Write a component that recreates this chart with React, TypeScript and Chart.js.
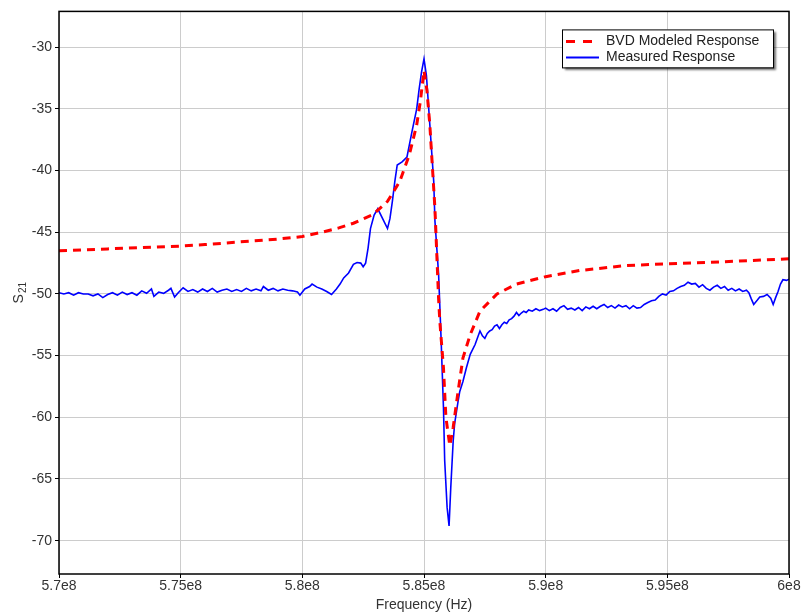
import React, { useEffect, useRef } from 'react';
import { Chart, registerables } from 'chart.js';

Chart.register(...registerables);

// Frequency in MHz (axis labels shown as e8 Hz)
const freqMeasured = [
  570.0, 570.2, 570.4, 570.6, 570.8, 571.0, 571.2, 571.4, 571.6, 571.8, 572.0, 572.2, 572.4, 572.6, 572.8,
  573.0, 573.2, 573.4, 573.6, 573.8, 573.9, 574.1, 574.3, 574.5, 574.6, 574.75, 574.9, 575.1, 575.3, 575.5,
  575.7, 575.9, 576.1, 576.3, 576.5, 576.7, 576.9, 577.1, 577.3, 577.5, 577.7, 577.9, 578.1, 578.3, 578.4,
  578.6, 578.8, 579.0, 579.2, 579.4, 579.6, 579.8, 579.9, 580.1, 580.3, 580.4, 580.6, 580.8, 581.0, 581.2,
  581.4, 581.55, 581.7, 581.9, 582.1, 582.25, 582.4, 582.5, 582.6, 582.7, 582.8, 582.95, 583.1, 583.3, 583.5,
  583.6, 583.7, 583.8, 583.9, 584.1, 584.3, 584.5, 584.7, 584.8, 584.9, 585.0, 585.1, 585.24, 585.4, 585.45,
  585.6, 585.7, 585.8, 585.85, 585.95, 586.03, 586.1, 586.2, 586.26, 586.4, 586.47, 586.6, 586.74, 586.9, 587.1,
  587.3, 587.4, 587.5, 587.6, 587.7, 587.8, 587.9, 588.0, 588.1, 588.2, 588.3, 588.4, 588.5, 588.6, 588.7,
  588.8, 588.9, 589.0, 589.1, 589.2, 589.3, 589.45, 589.6, 589.75, 589.9, 590.0, 590.15, 590.3, 590.45, 590.6,
  590.75, 590.9, 591.05, 591.2, 591.35, 591.5, 591.65, 591.8, 591.95, 592.1, 592.25, 592.4, 592.55, 592.7, 592.85,
  593.0, 593.15, 593.3, 593.45, 593.6, 593.75, 593.9, 594.05, 594.2, 594.35, 594.5, 594.65, 594.8, 594.95, 595.1,
  595.25, 595.4, 595.55, 595.7, 595.85, 596.0, 596.15, 596.3, 596.45, 596.6, 596.75, 596.9, 597.05, 597.2, 597.35,
  597.5, 597.65, 597.8, 597.95, 598.1, 598.25, 598.35, 598.45, 598.55, 598.7, 598.8, 598.95, 599.1, 599.25, 599.35,
  599.45, 599.55, 599.65, 599.75, 599.9, 600.0,
];
const s21Measured = [
  -49.9, -50.0, -49.9, -50.1, -49.9, -50.0, -50.0, -50.15, -50.0, -50.3, -50.05, -49.9, -50.1, -49.85, -50.05,
  -49.9, -50.1, -49.75, -49.95, -49.6, -50.2, -49.85, -49.95, -49.7, -49.55, -50.25, -49.9, -49.5, -49.8, -49.65,
  -49.85, -49.6, -49.8, -49.55, -49.85, -49.7, -49.6, -49.8, -49.65, -49.8, -49.55, -49.75, -49.6, -49.75, -49.4,
  -49.7, -49.55, -49.75, -49.6, -49.7, -49.75, -49.85, -50.1, -49.6, -49.4, -49.2, -49.45, -49.6, -49.8, -50.05,
  -49.6, -49.2, -48.7, -48.3, -47.6, -47.45, -47.5, -47.8, -47.5, -46.3, -44.7, -43.6, -43.1, -43.9, -44.7,
  -43.9, -42.5, -40.9, -39.55, -39.3, -38.9, -36.9, -35.0, -33.4, -32.0, -30.95, -32.3, -36.3, -40.9, -44.1,
  -48.4, -53.5, -59.2, -63.5, -67.3, -68.8, -65.7, -61.9, -60.5, -58.7, -57.9, -57.1, -56.0, -54.9, -54.1,
  -53.0, -53.4, -53.6, -53.2, -53.0, -52.9, -52.6, -52.5, -52.8, -52.5, -52.3, -52.4, -52.1, -52.0, -51.8,
  -51.5, -51.75, -51.55, -51.4, -51.5, -51.3, -51.4, -51.2, -51.35, -51.25, -51.15, -51.35, -51.2, -51.4, -51.1,
  -50.95, -51.25, -51.15, -51.3, -51.1, -51.35, -51.05, -51.2, -51.0, -51.2, -51.0, -50.85, -51.1, -50.95, -51.15,
  -50.9, -51.05, -50.95, -51.2, -50.95, -51.15, -51.1, -50.85, -50.7, -50.55, -50.5, -50.2, -50.0, -50.1, -49.8,
  -49.75, -49.55, -49.4, -49.3, -49.05, -49.2, -49.15, -49.45, -49.25, -49.55, -49.7, -49.45, -49.3, -49.55, -49.4,
  -49.7, -49.55, -49.75, -49.6, -49.8, -49.7, -49.9, -50.4, -50.85, -50.5, -50.25, -50.2, -50.05, -50.35, -50.85,
  -50.3, -49.8, -49.2, -48.85, -48.9, -48.8,
];

const freqModel = [
  570, 572, 574, 575, 576, 577, 578, 579, 580, 580.8, 581.5, 582.1, 582.9, 583.5, 584.0, 584.4, 584.7,
  584.85, 585.0, 585.12, 585.24, 585.45, 585.6, 585.65, 585.8, 585.9, 586.06, 586.2, 586.4, 586.6, 586.9,
  587.3, 587.7, 588.0, 588.8, 590.0, 591.4, 593.3, 595.1, 597.2, 600,
];
const s21Model = [
  -46.5, -46.35, -46.2, -46.12, -46.0, -45.85, -45.7, -45.55, -45.35, -45.0, -44.65, -44.27, -43.57, -42.5,
  -40.9, -38.7, -36.3, -34.4, -31.9, -33.5, -36.3, -43.1, -50.4, -52.2, -56.0, -60.0, -62.3, -60.8, -57.9,
  -55.2, -53.3, -51.4, -50.6, -50.0, -49.2, -48.6, -48.1, -47.7, -47.55, -47.4, -47.15,
];

const xTicks = [570, 575, 580, 585, 590, 595, 600];
const yTicks = [-70, -65, -60, -55, -50, -45, -40, -35, -30];
const seriesNames = ['BVD Modeled Response', 'Measured Response'];
const xTitle = 'Frequency (Hz)';

const FONT = '"Liberation Sans", Arial, sans-serif';
const TEXT = '#333333';

const decorPlugin = {
  id: 'decor',
  afterDraw(chart: any) {
    const { ctx, chartArea: a } = chart;
    ctx.save();
    // frame
    ctx.strokeStyle = '#000';
    ctx.lineWidth = 1.5;
    ctx.strokeRect(a.left, a.top, a.right - a.left, a.bottom - a.top);

    // legend
    const lw = 211;
    const lh = 38;
    const lx = a.right - 16 - lw;
    const ly = a.top + 18;
    ctx.save();
    ctx.shadowColor = 'rgba(0,0,0,0.55)';
    ctx.shadowOffsetX = 3;
    ctx.shadowOffsetY = 3;
    ctx.shadowBlur = 2;
    ctx.fillStyle = '#fff';
    ctx.fillRect(lx, ly, lw, lh);
    ctx.restore();
    ctx.strokeStyle = '#000';
    ctx.lineWidth = 1;
    ctx.strokeRect(lx + 0.5, ly + 0.5, lw, lh);

    const r1 = ly + 12;
    const r2 = ly + 28;
    ctx.strokeStyle = '#ff0000';
    ctx.lineWidth = 3;
    ctx.setLineDash([9, 8]);
    ctx.beginPath();
    ctx.moveTo(lx + 4, r1);
    ctx.lineTo(lx + 30, r1);
    ctx.stroke();
    ctx.setLineDash([]);
    ctx.strokeStyle = '#0000ff';
    ctx.lineWidth = 2;
    ctx.beginPath();
    ctx.moveTo(lx + 4, r2);
    ctx.lineTo(lx + 37, r2);
    ctx.stroke();

    ctx.fillStyle = '#222';
    ctx.font = `14px ${FONT}`;
    ctx.textBaseline = 'middle';
    ctx.textAlign = 'left';
    ctx.fillText(seriesNames[0], lx + 44, r1);
    ctx.fillText(seriesNames[1], lx + 44, r2);

    // y axis title S21 with subscript
    ctx.save();
    ctx.translate(18, (a.top + a.bottom) / 2);
    ctx.rotate(-Math.PI / 2);
    ctx.fillStyle = TEXT;
    ctx.font = `14px ${FONT}`;
    const sw = ctx.measureText('S').width;
    ctx.font = `10px ${FONT}`;
    const subw = ctx.measureText('21').width;
    const start = -(sw + 1 + subw) / 2;
    ctx.textBaseline = 'alphabetic';
    ctx.font = `14px ${FONT}`;
    ctx.fillText('S', start, 5);
    ctx.font = `10px ${FONT}`;
    ctx.fillText('21', start + sw + 1, 8);
    ctx.restore();

    ctx.restore();
  },
};

export default function App() {
  const ref = useRef<HTMLCanvasElement | null>(null);

  useEffect(() => {
    document.body.style.margin = '0';
    const canvas = ref.current;
    if (!canvas) return;
    const chart = new Chart(canvas, {
      type: 'line',
      data: {
        datasets: [
          {
            label: seriesNames[0],
            data: freqModel.map((f, i) => ({ x: f, y: s21Model[i] })),
            borderColor: '#ff0000',
            borderWidth: 3,
            borderDash: [8, 6],
            pointRadius: 0,
            fill: false,
            tension: 0,
          },
          {
            label: seriesNames[1],
            data: freqMeasured.map((f, i) => ({ x: f, y: s21Measured[i] })),
            borderColor: '#0000ff',
            borderWidth: 1.6,
            pointRadius: 0,
            fill: false,
            tension: 0,
          },
        ],
      },
      options: {
        responsive: false,
        animation: false,
        layout: { padding: { top: 9, right: 12, left: 0, bottom: 0 } },
        plugins: {
          legend: { display: false },
          tooltip: { enabled: false },
        },
        scales: {
          x: {
            type: 'linear',
            min: 570,
            max: 600,
            afterFit: (s: any) => {
              s.height = 42;
            },
            afterBuildTicks: (s: any) => {
              s.ticks = xTicks.map((v) => ({ value: v }));
            },
            ticks: {
              padding: 0,
              color: TEXT,
              font: { family: FONT, size: 14 },
              maxRotation: 0,
              autoSkip: false,
              callback: (v: any) => `${Number((Number(v) / 100).toFixed(2))}e8`,
            },
            grid: { color: '#cccccc', lineWidth: 1, tickColor: '#000', tickLength: 4 },
            border: { display: false },
            title: {
              display: true,
              text: xTitle,
              color: TEXT,
              font: { family: FONT, size: 14 },
              padding: { top: 0, bottom: 2 },
            },
          },
          y: {
            type: 'linear',
            min: -72.7,
            max: -27.1,
            afterFit: (s: any) => {
              s.width = 59;
            },
            afterBuildTicks: (s: any) => {
              s.ticks = yTicks.map((v) => ({ value: v }));
            },
            ticks: {
              padding: 3,
              color: TEXT,
              font: { family: FONT, size: 14 },
              autoSkip: false,
            },
            grid: { color: '#cccccc', lineWidth: 1, tickColor: '#000', tickLength: 4 },
            border: { display: false },
          },
        },
      },
      plugins: [decorPlugin],
    });
    return () => chart.destroy();
  }, []);

  return (
    <div style={{ width: 801, height: 616 }}>
      <canvas ref={ref} width={801} height={616} style={{ display: 'block' }} />
    </div>
  );
}
